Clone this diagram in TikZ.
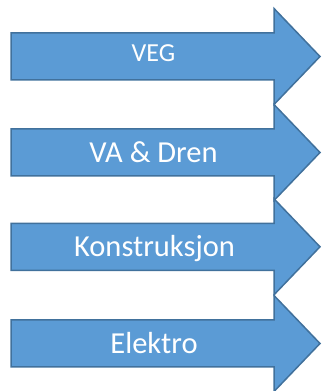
\documentclass[tikz,border=0pt]{standalone}
\usepackage{fontspec}
\setmainfont{Carlito}
\definecolor{fillblue}{HTML}{5B9BD5}
\definecolor{edgeblue}{HTML}{41719C}
\tikzset{
  bigarrow/.style={fill=fillblue, draw=edgeblue, line width=1.5pt, line join=miter},
  lbl/.style={text=white, anchor=base, inner sep=0pt},
  vegfont/.style={font=\fontsize{26}{30}\selectfont},
  bigfont/.style={font=\fontsize{30.5}{36}\selectfont}
}
\begin{document}
\begin{tikzpicture}[x=1pt,y=1pt]
\useasboundingbox (0,0) rectangle (324,391);
\foreach \cy in {56.5,152.5,246.8,343.5} {
  \pgfmathsetmacro\yc{391-\cy}
  \draw[bigarrow] (11,\yc+23.5) -- (274,\yc+23.5) -- (274,\yc+48) -- (320,\yc)
    -- (274,\yc-48) -- (274,\yc-23.5) -- (11,\yc-23.5) -- cycle;
}
\node[lbl, vegfont] (veg) at (153.5,391-62) {VEG};
\node[lbl, bigfont] (va) at (153.5,391-163) {VA \& Dren};
\node[lbl, bigfont] (kon) at (154.5,391-256.5) {Konstruksjon};
\node[lbl, bigfont] (el) at (154,391-354) {Elektro};
\end{tikzpicture}
\end{document}
